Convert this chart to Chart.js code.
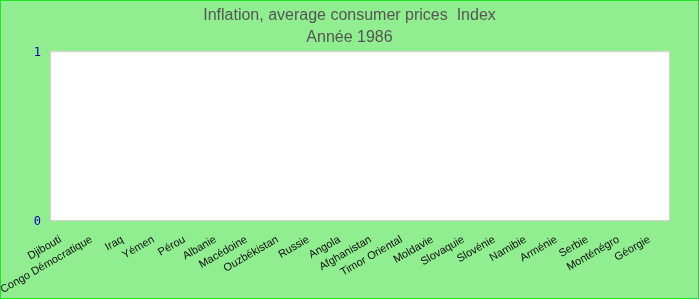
<!DOCTYPE html>
<html>
<head>
<meta charset="utf-8">
<script src="https://cdn.jsdelivr.net/npm/chart.js@4.4.1/dist/chart.umd.min.js"></script>
<style>
  html, body { margin: 0; padding: 0; }
  body { width: 700px; height: 300px; overflow: hidden; }
  #wrap { width: 697px; height: 297px; border: 1px solid #22e022; background: #90ee90; }
</style>
</head>
<body>
<div id="wrap"><canvas id="inflationChart" width="697" height="297"></canvas></div>
<script>
const countries = [
    "Djibouti", "Congo Démocratique", "Iraq", "Yémen", "Pérou",
    "Albanie", "Macédoine", "Ouzbékistan", "Russie", "Angola",
    "Afghanistan", "Timor Oriental", "Moldavie", "Slovaquie", "Slovénie",
    "Namibie", "Arménie", "Serbie", "Monténégro", "Géorgie"
];

// no value is drawn for 1986 in the picture
const inflationIndex = [
    0, 0, 0, 0, 0,
    0, 0, 0, 0, 0,
    0, 0, 0, 0, 0,
    0, 0, 0, 0, 0
];

const yTicks = [0, 1];

const titleLines = ["Inflation, average consumer prices  Index", "Année 1986"];

const plotBackground = {
    id: "plotBackground",
    beforeDraw(chart) {
        const a = chart.chartArea;
        const c = chart.ctx;
        c.save();
        c.fillStyle = "#ffffff";
        c.fillRect(a.left, a.top, a.right - a.left, a.bottom - a.top);
        c.strokeStyle = "#d0d0d0";
        c.lineWidth = 1;
        c.strokeRect(a.left + 0.5, a.top + 0.5, a.right - a.left - 1, a.bottom - a.top);
        c.restore();
    }
};

const ctx = document.getElementById("inflationChart");

window.inflationChart = new Chart(ctx, {
    type: "bar",
    data: {
        labels: countries,
        datasets: [{
            label: "Inflation",
            data: inflationIndex,
            backgroundColor: "#4472c4",
            borderWidth: 0,
            yAxisID: "y"
        }]
    },
    options: {
        responsive: false,
        animation: false,
        layout: { padding: 0 },
        plugins: {
            legend: { display: false },
            tooltip: { enabled: false },
            title: {
                display: true,
                text: titleLines,
                color: "#555555",
                font: { family: "Liberation Sans, Arial, sans-serif", size: 16, weight: "normal", lineHeight: 1.35 },
                padding: { top: 4, bottom: 3 }
            }
        },
        scales: {
            x: {
                grid: { display: false, drawTicks: false },
                border: { display: false },
                ticks: {
                    color: "#111111",
                    font: { family: "Liberation Sans, Arial, sans-serif", size: 11 },
                    maxRotation: 30,
                    minRotation: 30,
                    autoSkip: false,
                    padding: 13,
                    labelOffset: -5
                },
                afterFit(scale) { scale.height = 78; }
            },
            y: {
                min: 0,
                max: 1,
                afterBuildTicks(scale) { scale.ticks = yTicks.map(v => ({ value: v })); },
                grid: { display: false, drawTicks: false },
                border: { display: false },
                ticks: {
                    color: "#0000b0",
                    font: { family: "DejaVu Sans Mono, monospace", size: 12 },
                    padding: 9,
                    labelOffset: 2
                },
                afterFit(scale) { scale.width = 49; }
            },
            yRight: {
                position: "right",
                grid: { display: false, drawTicks: false },
                border: { display: false },
                ticks: { display: false },
                afterFit(scale) { scale.width = 28; }
            }
        }
    },
    plugins: [plotBackground]
});
</script>
</body>
</html>
